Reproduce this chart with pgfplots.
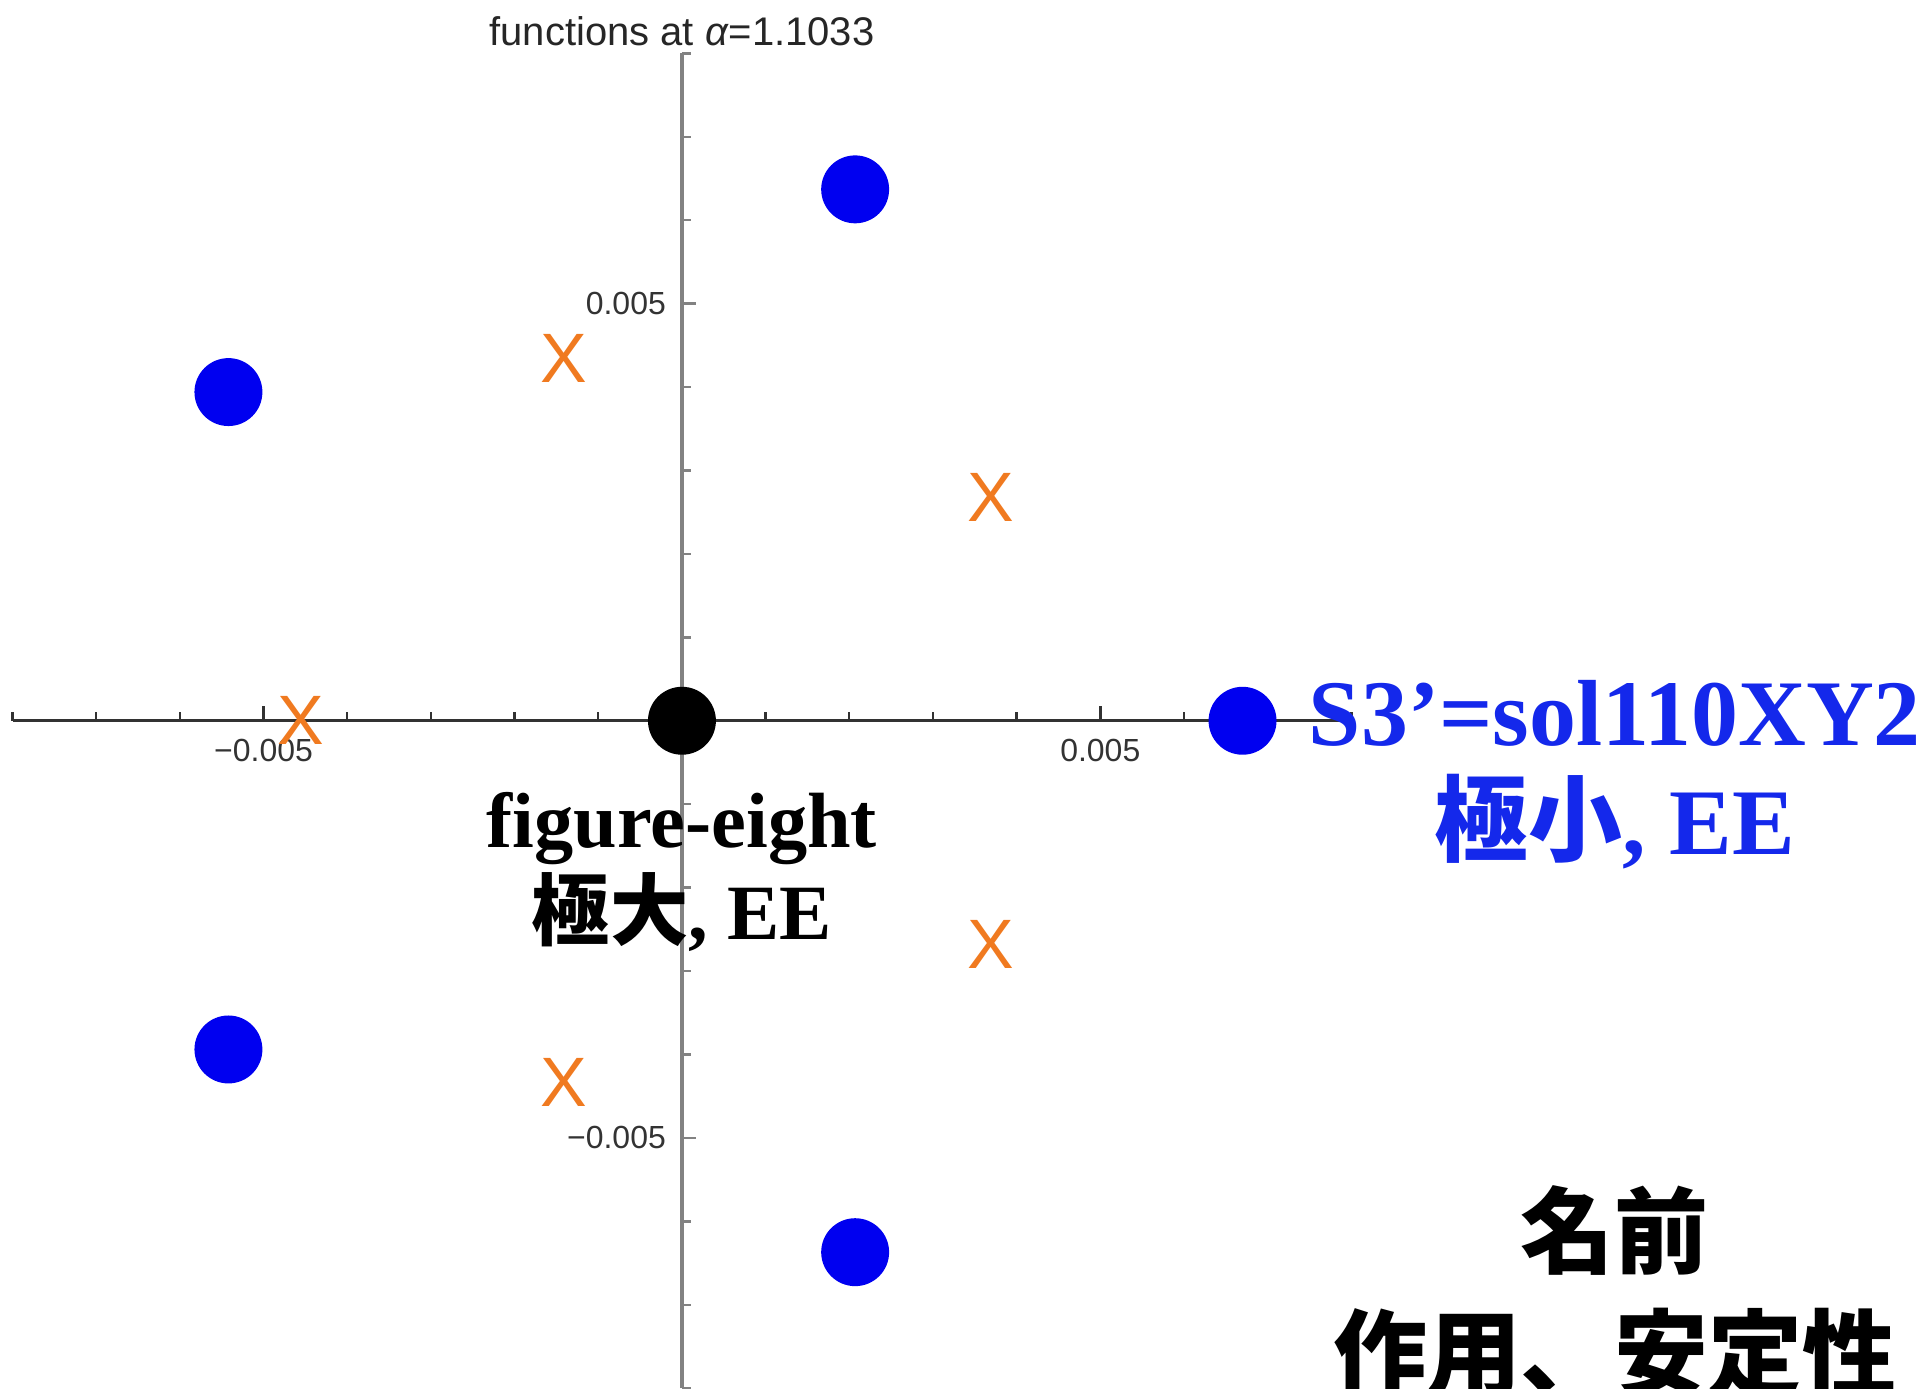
\documentclass[border=0pt]{standalone}
\usepackage{fontspec}
\usepackage{pgfplots}
\pgfplotsset{compat=1.18}
\setmainfont{Liberation Serif}
\setsansfont{Liberation Sans}
\newfontfamily\cjk{Noto Sans CJK JP}

\definecolor{dotblue}{RGB}{0,0,240}
\definecolor{txtblue}{RGB}{20,40,235}
\definecolor{xorange}{RGB}{240,122,32}
\definecolor{yaxgray}{RGB}{130,130,130}
\definecolor{xaxdark}{RGB}{50,50,50}

\begin{document}
\begin{tikzpicture}
\begin{axis}[
  scale only axis,
  width=335pt, height=334pt,
  xmin=-0.008, xmax=0.008,
  ymin=-0.008, ymax=0.008,
  axis lines=middle,
  axis line style={-},
  x axis line style={xaxdark, line width=0.8pt},
  y axis line style={yaxgray, line width=0.8pt},
  clip=false,
  scaled ticks=false,
  tick align=inside,
  major tick length=3.6pt,
  minor tick length=2.3pt,
  xtick={-0.005,0.005},
  xticklabels={−0.005,0.005},
  ytick={-0.005,0.005},
  yticklabels={−0.005,0.005},
  minor xtick={-0.008,-0.007,-0.006,-0.004,-0.003,-0.002,-0.001,0.001,0.002,0.003,0.004,0.006,0.007,0.008},
  minor ytick={-0.008,-0.007,-0.006,-0.004,-0.003,-0.002,-0.001,0.001,0.002,0.003,0.004,0.006,0.007,0.008},
  xtick style={xaxdark, line width=0.6pt},
  ytick style={yaxgray, line width=0.6pt},
  tick label style={font=\sffamily\fontsize{8}{8}\selectfont, text=black!80},
  x tick label style={yshift=-1pt},
  y tick label style={xshift=-0.5pt},
]
% five-fold solutions on the outer ring
\addplot[only marks, mark=*, mark size=8.3pt, color=dotblue] coordinates {
  (0.00670,0)
  (0.00207,0.00637)
  (-0.00542,0.00394)
  (-0.00542,-0.00394)
  (0.00207,-0.00637)
};
% inner ring of crosses
\addplot[only marks, mark=text, color=xorange,
  text mark={\color{xorange}\sffamily\fontsize{17.5}{17.5}\selectfont X}] coordinates {
  (0.00369,0.00268)
  (-0.00141,0.00434)
  (-0.00456,0)
  (-0.00141,-0.00434)
  (0.00369,-0.00268)
};
% centre point
\addplot[only marks, mark=*, mark size=8.3pt, color=black] coordinates {(0,0)};

\node[anchor=base, font=\sffamily\fontsize{10}{10}\selectfont, text=black!85]
  at (axis cs:0,0.008) [yshift=2pt] {functions at \textit{α}=1.1033};

\node[anchor=base, font=\bfseries\fontsize{19.6}{20}\selectfont]
  at (axis cs:0,-0.00152) {figure-eight};
\node[anchor=base, font=\bfseries\fontsize{19.6}{20}\selectfont]
  at (axis cs:0,-0.00262) {{\cjk 極大}, EE};

\node[anchor=base, font=\bfseries\fontsize{23.5}{24}\selectfont, text=txtblue]
  at (axis cs:0.01115,-0.00030) {S3’=sol110XY2};
\node[anchor=base, font=\bfseries\fontsize{23.5}{24}\selectfont, text=txtblue]
  at (axis cs:0.01115,-0.00160) {{\cjk 極小}, EE};

\node[anchor=base, font=\bfseries\fontsize{23.5}{24}\selectfont]
  at (axis cs:0.01115,-0.00654) {\cjk 名前};
\node[anchor=base, font=\bfseries\fontsize{23.5}{24}\selectfont]
  at (axis cs:0.01115,-0.00800) {\cjk 作用、安定性};

\coordinate (bbSW) at (axis cs:-0.00815,-0.0080);
\coordinate (bbNE) at (axis cs:0.01494,0.00864);
\end{axis}
\pgfresetboundingbox
\path[use as bounding box] (bbSW) rectangle (bbNE);
\end{tikzpicture}
\end{document}
